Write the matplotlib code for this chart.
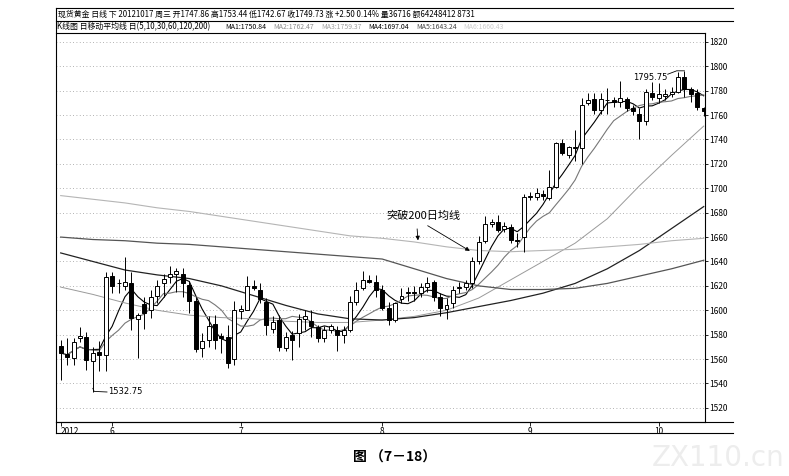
import matplotlib
matplotlib.use('Agg')
import matplotlib.pyplot as plt
from matplotlib.lines import Line2D
import numpy as np
import pandas as pd

plt.rcParams['font.family'] = ['Noto Sans CJK SC', 'DejaVu Sans']

# daily candles, 2012-05 .. 2012-10-17
opens = [1571, 1564, 1561, 1577, 1578, 1558, 1566, 1563, 1628, 1622,
         1620, 1622, 1593, 1605, 1600, 1612, 1622, 1627, 1630, 1630,
         1621, 1608, 1569, 1576, 1589, 1579, 1578, 1560, 1599, 1600,
         1620, 1617, 1607, 1585, 1592, 1569, 1580, 1581, 1593, 1591,
         1586, 1577, 1584, 1584, 1580, 1584, 1607, 1618, 1625, 1623,
         1617, 1602, 1592, 1609, 1614, 1615, 1614, 1619, 1623, 1611,
         1601, 1606, 1618, 1619, 1622, 1640, 1657, 1671, 1672, 1667,
         1668, 1658, 1660, 1693, 1693, 1695, 1692, 1701, 1737, 1727,
         1733, 1733, 1770, 1773, 1764, 1772, 1772, 1771, 1773, 1766,
         1761, 1755, 1778, 1774, 1776, 1777, 1779, 1791, 1781, 1778,
         1766]
highs = [1576, 1577, 1577, 1586, 1582, 1570, 1575, 1631, 1631, 1626,
         1644, 1631, 1598, 1611, 1617, 1625, 1630, 1636, 1635, 1635,
         1624, 1611, 1581, 1595, 1596, 1581, 1588, 1608, 1604, 1628,
         1625, 1622, 1610, 1595, 1596, 1582, 1583, 1597, 1600, 1600,
         1588, 1587, 1589, 1587, 1587, 1612, 1623, 1632, 1629, 1629,
         1621, 1607, 1607, 1618, 1619, 1620, 1622, 1627, 1625, 1614,
         1610, 1620, 1623, 1625, 1644, 1661, 1677, 1675, 1678, 1672,
         1671, 1663, 1695, 1697, 1700, 1699, 1715, 1738, 1740, 1735,
         1748, 1774, 1778, 1778, 1778, 1782, 1775, 1788, 1775, 1768,
         1766, 1781, 1787, 1786, 1781, 1783, 1795, 1795.75, 1783, 1781,
         1767]
lows = [1543, 1555, 1555, 1574, 1551, 1532.75, 1550, 1550, 1614, 1614,
        1617, 1584, 1561, 1585, 1594, 1606, 1611, 1622, 1615, 1611,
        1598, 1566, 1562, 1570, 1568, 1565, 1553, 1555, 1593, 1600,
        1617, 1606, 1580, 1581, 1567, 1567, 1559, 1570, 1584, 1578,
        1574, 1574, 1581, 1567, 1573, 1582, 1604, 1617, 1622, 1611,
        1600, 1588, 1590, 1606, 1608, 1608, 1611, 1615, 1608, 1595,
        1593, 1602, 1614, 1617, 1618, 1638, 1655, 1668, 1664, 1664,
        1655, 1652, 1648, 1690, 1690, 1690, 1690, 1700, 1727, 1725,
        1722, 1720, 1768, 1761, 1761, 1761, 1767, 1767, 1763, 1760,
        1740, 1752, 1772, 1770, 1772, 1775, 1778, 1775, 1771, 1764,
        1759]
closes = [1565, 1562, 1574, 1579, 1559, 1565, 1563, 1627, 1620, 1622.5,
          1623, 1594, 1596, 1598, 1611, 1620, 1626, 1630, 1632, 1622,
          1608, 1568, 1575, 1587, 1576, 1577, 1557, 1600, 1601, 1620,
          1618, 1609, 1588, 1590, 1570, 1578, 1576, 1593, 1595, 1587,
          1577, 1584, 1587, 1580, 1584, 1607, 1617, 1625, 1623.5, 1617,
          1602, 1592, 1606, 1612, 1615, 1614, 1619, 1622, 1611, 1602,
          1604, 1617, 1619, 1622, 1640, 1656, 1671, 1672, 1666, 1669,
          1658, 1657, 1693, 1693.5, 1696, 1694, 1701, 1737, 1729, 1734,
          1733.5, 1768, 1772, 1764, 1773, 1772.5, 1771, 1774, 1766, 1763,
          1755, 1779, 1775, 1777, 1777, 1779, 1791, 1781, 1777, 1767,
          1763]

month_pos = [0, 8, 28, 50, 73, 93]
month_labels = ['2012', '6', '7', '8', '9', '10']

# long moving averages (need history before the window)
ma_idx = [0, 5, 10, 15, 20, 25, 30, 35, 40, 45, 50, 55, 60, 65, 70, 75, 80, 85, 90, 95, 100]
ma30 = [1619, 1613, 1606, 1600, 1596, 1594, 1593, 1591, 1590, 1590, 1592, 1595, 1600,
        1610, 1625, 1640, 1655, 1675, 1702, 1727, 1751]
ma60 = [1647, 1640, 1633, 1629, 1626, 1620, 1612, 1604, 1597, 1593, 1592, 1594, 1598,
        1603, 1608, 1614, 1622, 1634, 1649, 1667, 1685]
ma120 = [1660, 1658, 1657, 1655, 1654, 1652, 1650, 1648, 1646, 1644, 1642, 1634, 1626,
         1620, 1617, 1617, 1618, 1622, 1628, 1634, 1641]
ma200 = [1694, 1691, 1688, 1684, 1681, 1677, 1673, 1669, 1665, 1661, 1659, 1656, 1652,
         1649, 1648, 1649, 1650, 1652, 1654, 1657, 1659]

header1 = '现货黄金 日线 下 20121017 周三 开1747.86 高1753.44 低1742.67 收1749.73 涨 +2.50 0.14% 量36716 额64248412 8731'
header2_lead = 'K线图 日移动平均线 日(5,10,30,60,120,200)'
header2 = [('MA1:1750.84', 'black'), ('MA2:1762.47', '#8a8a8a'),
           ('MA3:1759.37', '#a0a0a0'), ('MA4:1697.04', 'black'),
           ('MA5:1643.24', '#444444'), ('MA6:1660.43', '#cccccc')]

W, H = 789, 476
fig = plt.figure(figsize=(W / 100, H / 100), dpi=100)


def fx(px):
    return px / W


def fy(py):
    return 1 - py / H


ax = fig.add_axes([fx(56), fy(422), fx(705) - fx(56), fy(33) - fy(422)])

o = np.array(opens)
h = np.array(highs)
l = np.array(lows)
c = np.array(closes)
x = np.arange(len(c))
up = c >= o

ax.vlines(x, l, h, color='black', lw=0.7, zorder=3)
lo = np.minimum(o, c)
hh = np.maximum(np.abs(c - o), 0.5)
ax.bar(x[up], hh[up], bottom=lo[up], width=0.62, color='white', edgecolor='black', lw=0.7, zorder=4)
ax.bar(x[~up], hh[~up], bottom=lo[~up], width=0.62, color='black', edgecolor='black', lw=0.7, zorder=4)

ma5 = pd.Series(c).rolling(5, min_periods=1).mean()
ma10 = pd.Series(c).rolling(10, min_periods=1).mean()
ax.plot(x, ma5, color='black', lw=0.8, zorder=2)
ax.plot(x, ma10, color='#777777', lw=0.8, zorder=2)
ax.plot(ma_idx, ma30, color='#9a9a9a', lw=0.7, zorder=2)
ax.plot(ma_idx, ma60, color='#222222', lw=0.9, zorder=2)
ax.plot(ma_idx, ma120, color='#555555', lw=0.9, zorder=2)
ax.plot(ma_idx, ma200, color='#b5b5b5', lw=0.8, zorder=2)

ax.set_xlim(-0.73, 100.2)
ax.set_ylim(1508.4, 1827.3)
ax.yaxis.tick_right()
ax.set_yticks(np.arange(1520, 1821, 20))
ax.tick_params(axis='y', labelsize=6, length=2, pad=1, width=0.6)
ax.set_xticks(month_pos)
ax.set_xticklabels(month_labels)
ax.tick_params(axis='x', labelsize=6, length=3, pad=0.5, width=0.6)
ax.get_xticklabels()[0].set_ha('left')
ax.grid(axis='y', linestyle=(0, (1, 3)), color='#999999', lw=0.6)
for s in ax.spines.values():
    s.set_linewidth(0.8)
ax.spines['top'].set_visible(False)
ax.spines['left'].set_visible(False)

# max / min labels
ax.plot([5, 5.2, 7.2], [1536, 1533.5, 1533], color='black', lw=0.6)
ax.text(7.3, 1533, '1532.75', fontsize=6, va='center', ha='left', family='DejaVu Sans')
ax.plot([94.4, 95.8, 97], [1793.5, 1796.3, 1796.3], color='black', lw=0.6)
ax.text(94.3, 1791, '1795.75', fontsize=6, va='center', ha='right', family='DejaVu Sans')

ax.text(50.7, 1677, '突破200日均线', fontsize=8, va='center', ha='left')
ax.annotate('', xy=(55.6, 1655), xytext=(55.4, 1669),
            arrowprops=dict(arrowstyle='-|>', color='black', lw=0.6, mutation_scale=6))
ax.annotate('', xy=(64, 1647.5), xytext=(56.7, 1670.5),
            arrowprops=dict(arrowstyle='-|>', color='black', lw=0.6, mutation_scale=6))

# header frame
for (x0, x1, yy) in [(56, 733, 8), (56, 733, 21), (56, 705, 33), (56, 733, 422), (56, 733, 433)]:
    fig.add_artist(Line2D([fx(x0), fx(x1)], [fy(yy), fy(yy)], color='black', lw=0.8))
fig.add_artist(Line2D([fx(56), fx(56)], [fy(8), fy(433)], color='black', lw=0.8))

fig.text(fx(58), fy(14.5), header1, fontsize=5.7, va='center', ha='left')
fig.text(fx(57), fy(27), header2_lead, fontsize=5.7, va='center', ha='left')

renderer = fig.canvas.get_renderer()
px = 225
for t, col in header2:
    txt = fig.text(fx(px), fy(27), t, fontsize=5.0, va='center', ha='left', color=col)
    px = txt.get_window_extent(renderer).x1 + 7

fig.text(fx(395), fy(458), '图 （7－18）', fontsize=10, fontweight='bold', ha='center', va='center')
fig.text(fx(718), fy(458), 'ZX110.cn', fontsize=20, ha='center', va='center', color='#ededed',
         family='DejaVu Sans')

fig.savefig('out.png', dpi=100)
